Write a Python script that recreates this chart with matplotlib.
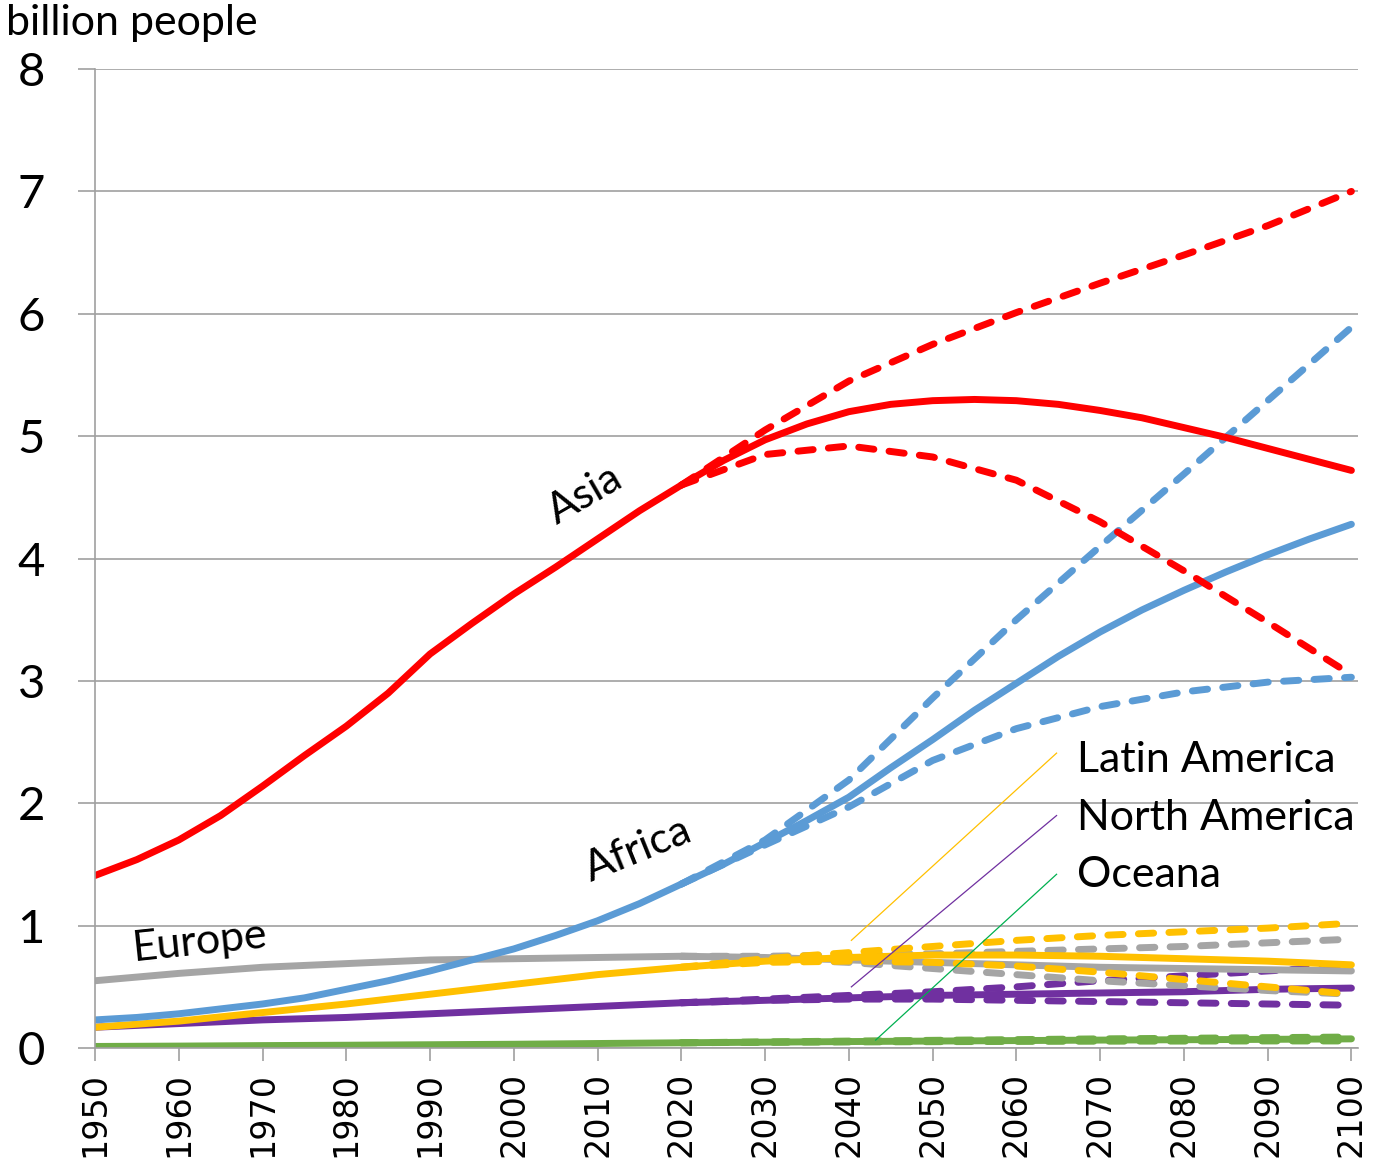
import matplotlib.pyplot as plt

# historical + medium projection
years_5 = list(range(1950, 2101, 5))
years_10 = list(range(1950, 2101, 10))
proj_years = list(range(2020, 2101, 10))

asia = [1.41, 1.54, 1.70, 1.90, 2.14, 2.39, 2.63, 2.90, 3.22, 3.47, 3.71,
        3.93, 4.16, 4.39, 4.60, 4.80, 4.97, 5.10, 5.20, 5.26, 5.29, 5.30,
        5.29, 5.26, 5.21, 5.15, 5.07, 4.99, 4.90, 4.81, 4.72]
asia_high = [4.60, 5.05, 5.45, 5.75, 6.01, 6.25, 6.48, 6.72, 7.00]
asia_low = [4.60, 4.85, 4.92, 4.83, 4.64, 4.30, 3.90, 3.48, 3.05]

africa = [0.23, 0.25, 0.28, 0.32, 0.36, 0.41, 0.48, 0.55, 0.63, 0.72, 0.81,
          0.92, 1.04, 1.18, 1.34, 1.50, 1.68, 1.86, 2.05, 2.29, 2.52, 2.76,
          2.98, 3.20, 3.40, 3.58, 3.74, 3.89, 4.03, 4.16, 4.28]
africa_high = [1.34, 1.70, 2.19, 2.86, 3.50, 4.10, 4.69, 5.29, 5.89]
africa_low = [1.34, 1.66, 1.97, 2.35, 2.61, 2.79, 2.91, 2.99, 3.03]

europe = [0.55, 0.61, 0.66, 0.69, 0.72, 0.73, 0.74, 0.75, 0.74, 0.72, 0.70,
          0.68, 0.66, 0.65, 0.64, 0.63]
europe_high = [0.75, 0.75, 0.76, 0.77, 0.79, 0.81, 0.83, 0.86, 0.89]
europe_low = [0.75, 0.73, 0.70, 0.65, 0.60, 0.55, 0.51, 0.47, 0.44]

latam = [0.17, 0.22, 0.29, 0.36, 0.44, 0.52, 0.60, 0.66, 0.71, 0.74, 0.76,
         0.76, 0.75, 0.73, 0.71, 0.68]
latam_high = [0.66, 0.73, 0.78, 0.83, 0.88, 0.92, 0.95, 0.98, 1.02]
latam_low = [0.66, 0.70, 0.71, 0.70, 0.67, 0.62, 0.56, 0.50, 0.44]

namerica = [0.17, 0.20, 0.23, 0.25, 0.28, 0.31, 0.34, 0.37, 0.39, 0.41, 0.43,
            0.44, 0.45, 0.46, 0.48, 0.49]
namerica_high = [0.37, 0.40, 0.43, 0.46, 0.50, 0.55, 0.59, 0.63, 0.67]
namerica_low = [0.37, 0.39, 0.40, 0.40, 0.39, 0.38, 0.37, 0.36, 0.35]

oceania = [0.013, 0.016, 0.020, 0.023, 0.027, 0.031, 0.037, 0.043, 0.048,
           0.053, 0.057, 0.061, 0.065, 0.068, 0.071, 0.075]
oceania_high = [0.043, 0.050, 0.057, 0.063, 0.069, 0.075, 0.080, 0.085, 0.090]
oceania_low = [0.043, 0.047, 0.050, 0.052, 0.054, 0.056, 0.057, 0.058, 0.058]

fig = plt.figure(figsize=(13.83, 11.68), dpi=100)
ax = fig.add_axes([0.0687, 0.1027, 0.9133, 0.8382])

lw = 5
dash = dict(linestyle=(0, (2.2, 2.2)), dash_capstyle="round")

series = [
    (years_10, oceania, oceania_high, oceania_low, "#70AD47"),
    (years_10, namerica, namerica_high, namerica_low, "#7030A0"),
    (years_10, europe, europe_high, europe_low, "#A5A5A5"),
    (years_10, latam, latam_high, latam_low, "#FFC000"),
    (years_5, africa, africa_high, africa_low, "#5B9BD5"),
    (years_5, asia, asia_high, asia_low, "#FF0000"),
]
for yrs, med, hi, lo, col in series:
    ax.plot(yrs, med, color=col, lw=lw, solid_capstyle="round",
            solid_joinstyle="round")
    ax.plot(proj_years, hi, color=col, lw=lw, **dash)
    ax.plot(proj_years, lo, color=col, lw=lw, **dash)

ax.set_xlim(1950, 2100.8)
ax.set_ylim(0, 8)
ax.set_xticks(years_10)
ax.set_xticklabels([str(y) for y in years_10], rotation=90,
                   fontsize=24, family="DejaVu Sans")
ax.set_yticks(range(0, 9))
ax.set_yticklabels([str(v) for v in range(0, 9)], fontsize=34, family="Lato")
ax.grid(axis="y", color="#A0A0A0", lw=1.2)
ax.set_axisbelow(True)
for s in ["top", "right"]:
    ax.spines[s].set_visible(False)
for s in ["left", "bottom"]:
    ax.spines[s].set_color("#A0A0A0")
    ax.spines[s].set_linewidth(1.2)
ax.tick_params(axis="y", length=12, width=1.2, color="#A0A0A0", pad=24)
ax.tick_params(axis="x", length=9, width=1.2, color="#A0A0A0", pad=8)

fig.text(0.004, 0.997, "billion people", fontsize=31, family="Lato", va="top")

ax.text(2008.5, 4.52, "Asia", rotation=30, fontsize=31, family="Lato",
        ha="center", va="center")
ax.text(2014.9, 1.62, "Africa", rotation=22, fontsize=31, family="Lato",
        ha="center", va="center")
ax.text(1962.5, 0.87, "Europe", rotation=6, fontsize=31, family="Lato",
        ha="center", va="center")

for label, ytxt, start, end, col in [
        ("Latin America", 2.35, (2064.8, 2.41), (2040.3, 0.88), "#FFC000"),
        ("North America", 1.88, (2064.8, 1.90), (2040.3, 0.50), "#7030A0"),
        ("Oceana", 1.41, (2064.8, 1.42), (2043.2, 0.065), "#00B050")]:
    ax.plot([start[0], end[0]], [start[1], end[1]], color=col, lw=0.9)
    ax.text(2067.2, ytxt, label, fontsize=31, family="Lato", va="center")

fig.savefig("out.png")
